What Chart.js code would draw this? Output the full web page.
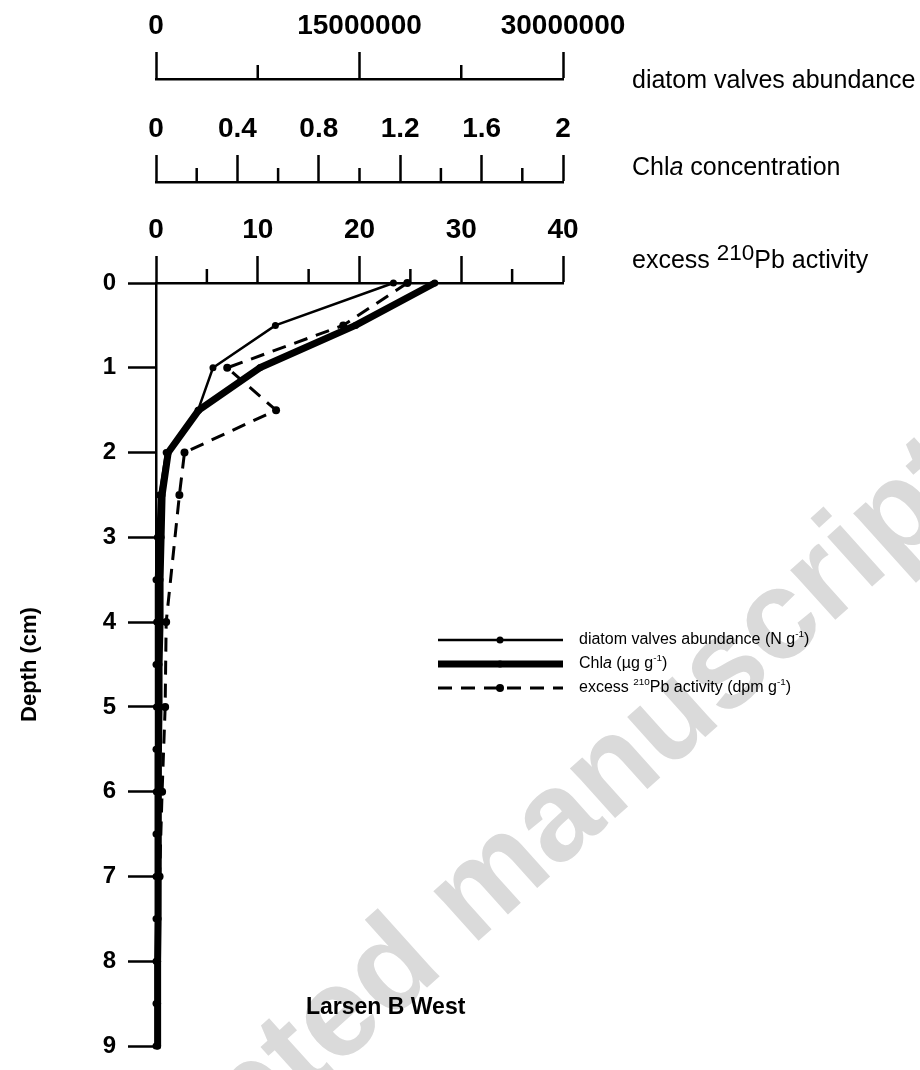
<!DOCTYPE html>
<html>
<head>
<meta charset="utf-8">
<script src="https://cdn.jsdelivr.net/npm/chart.js@4.4.0/dist/chart.umd.min.js"></script>
<style>
  html, body { margin:0; padding:0; background:#fff; }
  #wrap { width:920px; height:1070px; }
</style>
</head>
<body>
<div id="wrap"><canvas id="chart" width="920" height="1070"></canvas></div>
<script>
// Perfil Larsen B West: valores (profundidad en cm)
const diaDepth  = [0, 0.5, 1, 1.5, 2, 2.5, 3, 3.5, 4, 4.5, 5, 5.5, 6, 6.5, 7, 7.5, 8, 8.5, 9];
const diaValues = [17500000, 8800000, 4200000, 3100000, 750000, 250000, 100000, 0, 50000, 0, 30000, 0, 20000, 0, 0, 0, 0, 0, 0];
const chlDepth  = [0, 0.5, 1, 1.5, 2, 2.5, 3, 3.5, 4, 4.5, 5, 5.5, 6, 6.5, 7, 7.5, 8, 8.5, 9];
const chlValues = [1.37, 0.98, 0.51, 0.21, 0.06, 0.03, 0.025, 0.02, 0.02, 0.015, 0.015, 0.012, 0.012, 0.01, 0.01, 0.01, 0.008, 0.008, 0.008];
const pbDepth   = [0, 0.5, 1, 1.5, 2, 2.5, 4, 5, 6, 7];
const pbValues  = [24.7, 18.4, 7.0, 11.8, 2.8, 2.3, 1.0, 0.9, 0.6, 0.35];

// ticks con etiqueta (los demás son ticks menores)
const diaTicks = [0, 15000000, 30000000];
const diaTickLabels = ['0', '15000000', '30000000'];
const chlTicks = [0, 0.4, 0.8, 1.2, 1.6, 2];
const chlTickLabels = ['0', '0.4', '0.8', '1.2', '1.6', '2'];
const pbTicks = [0, 10, 20, 30, 40];
const pbTickLabels = ['0', '10', '20', '30', '40'];
const depthTicks = [0, 1, 2, 3, 4, 5, 6, 7, 8, 9];

const FONT = '"Liberation Sans", Arial, sans-serif';

function pts(xs, ys){ return xs.map((v,i)=>({x:v, y:ys[i]})); }
function findTick(list, v, tol){ return list.findIndex(t => Math.abs(t - v) < tol); }

function topAxis(min, max, step, ticks, labels, weight, h){
  const tol = step / 1000;
  return {
    type:'linear', position:'top', min, max, weight,
    ticks:{
      stepSize:step, autoSkip:false, maxRotation:0, padding:9, color:'#000',
      font:{family:FONT, size:28, weight:'bold'},
      callback:(v)=>{ const i = findTick(ticks, v, tol); return i < 0 ? '' : labels[i]; }
    },
    grid:{
      drawOnChartArea:false, tickLength:27, tickWidth:2.5,
      tickColor:(c)=> findTick(ticks, c.tick.value, tol) < 0 ? 'rgba(0,0,0,0)' : '#000'
    },
    border:{color:'#000', width:2.5},
    afterFit:(s)=>{ s.height = h; }
  };
}

// superíndices y cursiva en los textos
const rightLabels = [
  {axis:'xDia', dy:2,   runs:[{t:'diatom valves abundance'}]},
  {axis:'xChl', dy:-14, runs:[{t:'Chl'},{t:'a', it:true},{t:' concentration'}]},
  {axis:'xPb',  dy:-22, runs:[{t:'excess '},{t:'210', sup:true},{t:'Pb activity'}]}
];
const legendRuns = [
  [{t:'diatom valves abundance (N g'},{t:'-1', sup:true},{t:')'}],
  [{t:'Chl'},{t:'a', it:true},{t:' (µg g'},{t:'-1', sup:true},{t:')'}],
  [{t:'excess '},{t:'210', sup:true},{t:'Pb activity (dpm g'},{t:'-1', sup:true},{t:')'}]
];
const legendY = [640, 664, 688];

function drawRuns(ctx, runs, x, y, size, supScale, supRise){
  ctx.textAlign = 'left';
  ctx.textBaseline = 'middle';
  for (const r of runs){
    const s = r.sup ? size*supScale : size;
    ctx.font = (r.it ? 'italic ' : '') + s + 'px ' + FONT;
    ctx.fillText(r.t, x, r.sup ? y - size*supRise : y);
    x += ctx.measureText(r.t).width;
  }
}

const decor = {
  id:'decor',
  beforeDraw(chart){
    const ctx = chart.ctx;
    ctx.save();
    ctx.translate(21, 1353);
    ctx.rotate(-42*Math.PI/180);
    ctx.font = 'bold 127px ' + FONT;
    ctx.fillStyle = '#dadada';
    ctx.textBaseline = 'alphabetic';
    ctx.fillText('Accepted manuscript', 0, 0);
    ctx.restore();
  },
  afterDraw(chart){
    const ctx = chart.ctx;
    ctx.save();
    ctx.strokeStyle = '#000';
    ctx.fillStyle = '#000';
    ctx.lineWidth = 2.5;
    // ticks menores de los tres ejes superiores
    for (const id of ['xDia','xChl','xPb']){
      const sc = chart.scales[id];
      const lab = id === 'xDia' ? diaTicks : id === 'xChl' ? chlTicks : pbTicks;
      const tol = (sc.max - sc.min)/10000;
      sc.ticks.forEach(t=>{
        if (findTick(lab, t.value, tol) >= 0) return;
        const x = sc.getPixelForValue(t.value);
        ctx.beginPath();
        ctx.moveTo(x, sc.bottom);
        ctx.lineTo(x, sc.bottom - 14);
        ctx.stroke();
      });
    }
    // nombres de los ejes a la derecha
    rightLabels.forEach(l=>{
      const sc = chart.scales[l.axis];
      drawRuns(ctx, l.runs, 632, sc.bottom + l.dy, 25, 0.9, 0.3);
    });
    // leyenda
    chart.data.datasets.forEach((ds,i)=>{
      const y = legendY[i];
      ctx.save();
      ctx.lineWidth = ds.borderWidth;
      ctx.setLineDash(ds.borderDash || []);
      ctx.beginPath();
      ctx.moveTo(438, y);
      ctx.lineTo(563, y);
      ctx.stroke();
      ctx.restore();
      ctx.beginPath();
      ctx.arc(500, y, ds.pointRadius, 0, Math.PI*2);
      ctx.fill();
      drawRuns(ctx, legendRuns[i], 579, y, 16, 0.62, 0.35);
    });
    // nombre del sitio
    ctx.font = 'bold 23px ' + FONT;
    ctx.textAlign = 'left';
    ctx.textBaseline = 'middle';
    ctx.fillText('Larsen B West', 306, 1008);
    ctx.restore();
  }
};

new Chart(document.getElementById('chart'), {
  type:'scatter',
  data:{
    datasets:[
      {label:'diatom valves abundance', data:pts(diaValues, diaDepth), xAxisID:'xDia', yAxisID:'y',
       showLine:true, borderColor:'#000', backgroundColor:'#000', borderWidth:2.5,
       pointRadius:3.5, pointBorderWidth:0, clip:false},
      {label:'Chla', data:pts(chlValues, chlDepth), xAxisID:'xChl', yAxisID:'y',
       showLine:true, borderColor:'#000', backgroundColor:'#000', borderWidth:7,
       pointRadius:3.5, pointBorderWidth:0, borderJoinStyle:'round', clip:false},
      {label:'excess 210Pb activity', data:pts(pbValues, pbDepth), xAxisID:'xPb', yAxisID:'y',
       showLine:true, borderColor:'#000', backgroundColor:'#000', borderWidth:3, borderDash:[14,9],
       pointRadius:4, pointBorderWidth:0, clip:false}
    ]
  },
  options:{
    responsive:false, animation:false, events:[],
    layout:{padding:{left:0, right:357, top:0, bottom:13}},
    plugins:{legend:{display:false}, tooltip:{enabled:false}},
    scales:{
      y:{
        type:'linear', position:'left', reverse:true, min:0, max:9,
        afterBuildTicks:(s)=>{ s.ticks = depthTicks.map(v=>({value:v})); },
        ticks:{padding:12, color:'#000', font:{family:FONT, size:24, weight:'bold', lineHeight:1}},
        grid:{drawOnChartArea:false, tickLength:28, tickWidth:2.5, tickColor:'#000'},
        border:{color:'#000', width:2.5},
        title:{display:true, text:'Depth (cm)', color:'#000', padding:{top:17, bottom:0},
               font:{family:FONT, size:22, weight:'bold'}},
        afterFit:(s)=>{ s.width = 156; }
      },
      xPb:  topAxis(0, 40, 5, pbTicks, pbTickLabels, 0, 101),
      xChl: topAxis(0, 2, 0.2, chlTicks, chlTickLabels, 1, 103),
      xDia: topAxis(0, 30000000, 7500000, diaTicks, diaTickLabels, 2, 79)
    }
  },
  plugins:[decor]
});
</script>
</body>
</html>
